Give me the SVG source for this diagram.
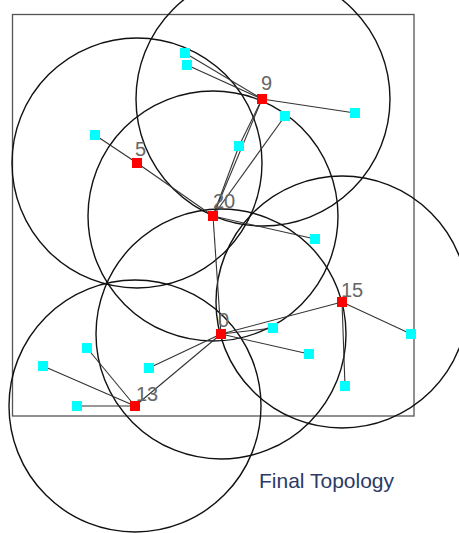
<svg xmlns="http://www.w3.org/2000/svg" width="459" height="533" viewBox="0 0 459 533">
<style>
.rng{fill:none;stroke:#111;stroke-width:1.4}
.lk{stroke:#333;stroke-width:1.1;fill:none}
.ch{fill:#ff0000}
.mb{fill:#00ffff}
.lb{font-family:"Liberation Sans",Arial,sans-serif;font-size:20px;fill:#666}
.ttl{font-family:"Liberation Sans",Arial,sans-serif;font-size:21px;fill:#2b3a67}
</style>
<rect width="459" height="533" fill="#ffffff"/>
<rect id="field" x="12.5" y="14.5" width="401.5" height="401.5" fill="none" stroke="#555" stroke-width="1.3"/>
<g id="ranges">
<circle class="rng" cx="263" cy="99" r="127"/>
<circle class="rng" cx="137" cy="163" r="125"/>
<circle class="rng" cx="213" cy="216" r="125"/>
<circle class="rng" cx="342" cy="302" r="126"/>
<circle class="rng" cx="221" cy="334" r="125"/>
<circle class="rng" cx="135" cy="406" r="126"/>
</g>
<g id="connectors">
<line class="lk" x1="262" y1="99" x2="185" y2="53"/>
<line class="lk" x1="262" y1="99" x2="187" y2="65"/>
<line class="lk" x1="262" y1="99" x2="355" y2="113"/>
<line class="lk" x1="262" y1="99" x2="239" y2="146"/>
<line class="lk" x1="213" y1="216" x2="262" y2="99"/>
<line class="lk" x1="213" y1="216" x2="239" y2="146"/>
<line class="lk" x1="213" y1="216" x2="285" y2="116"/>
<line class="lk" x1="137" y1="163" x2="95" y2="135"/>
<line class="lk" x1="137" y1="163" x2="213" y2="216"/>
<line class="lk" x1="213" y1="216" x2="315" y2="239"/>
<line class="lk" x1="213" y1="216" x2="221" y2="334"/>
<line class="lk" x1="221" y1="334" x2="342" y2="302"/>
<line class="lk" x1="342" y1="302" x2="411" y2="334"/>
<line class="lk" x1="342" y1="302" x2="345" y2="386"/>
<line class="lk" x1="221" y1="334" x2="273" y2="328"/>
<line class="lk" x1="221" y1="334" x2="309" y2="354"/>
<line class="lk" x1="221" y1="334" x2="149" y2="368"/>
<line class="lk" x1="221" y1="334" x2="135" y2="406"/>
<line class="lk" x1="135" y1="406" x2="87" y2="348"/>
<line class="lk" x1="135" y1="406" x2="43" y2="366"/>
<line class="lk" x1="135" y1="406" x2="77" y2="406"/>
</g>
<g id="m1"><rect class="mb" x="180" y="48" width="10" height="10"/></g>
<g id="m2"><rect class="mb" x="182" y="60" width="10" height="10"/></g>
<g id="m3"><rect class="mb" x="90" y="130" width="10" height="10"/></g>
<g id="m4"><rect class="mb" x="350" y="108" width="10" height="10"/></g>
<g id="m5"><rect class="mb" x="280" y="111" width="10" height="10"/></g>
<g id="m6"><rect class="mb" x="234" y="141" width="10" height="10"/></g>
<g id="m7"><rect class="mb" x="310" y="234" width="10" height="10"/></g>
<g id="m8"><rect class="mb" x="268" y="323" width="10" height="10"/></g>
<g id="m9"><rect class="mb" x="406" y="329" width="10" height="10"/></g>
<g id="m10"><rect class="mb" x="82" y="343" width="10" height="10"/></g>
<g id="m11"><rect class="mb" x="38" y="361" width="10" height="10"/></g>
<g id="m12"><rect class="mb" x="144" y="363" width="10" height="10"/></g>
<g id="m13"><rect class="mb" x="72" y="401" width="10" height="10"/></g>
<g id="m14"><rect class="mb" x="304" y="349" width="10" height="10"/></g>
<g id="m15"><rect class="mb" x="340" y="381" width="10" height="10"/></g>
<g id="n9"><rect class="ch" x="257" y="94" width="10" height="10"/><text class="lb" x="261" y="90">9</text></g>
<g id="n5"><rect class="ch" x="132" y="158" width="10" height="10"/><text class="lb" x="135" y="156">5</text></g>
<g id="n20"><rect class="ch" x="208" y="211" width="10" height="10"/><text class="lb" x="213" y="208">20</text></g>
<g id="n15"><rect class="ch" x="337" y="297" width="10" height="10"/><text class="lb" x="341" y="297">15</text></g>
<g id="n0"><rect class="ch" x="216" y="329" width="10" height="10"/><text class="lb" x="218" y="327">0</text></g>
<g id="n13"><rect class="ch" x="130" y="401" width="10" height="10"/><text class="lb" x="136" y="401">13</text></g>
<text class="ttl" x="259" y="488">Final Topology</text>
</svg>
